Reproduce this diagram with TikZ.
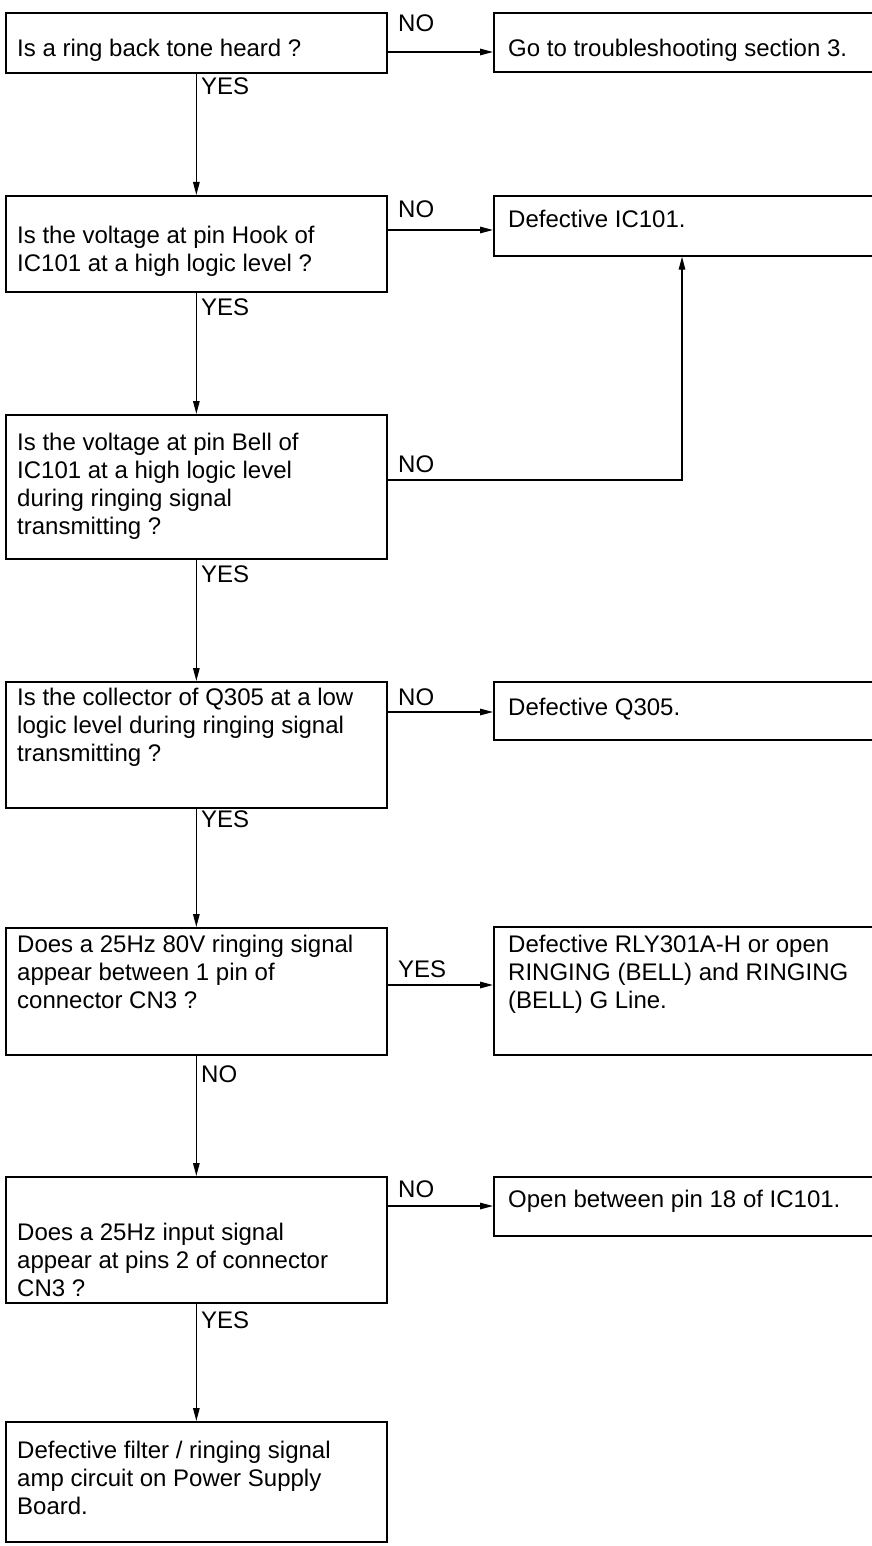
\documentclass[tikz,border=0pt]{standalone}
\usepackage{fontspec}
\setmainfont{Liberation Sans}
\usetikzlibrary{arrows.meta}
\begin{document}
\begin{tikzpicture}[x=1pt,y=-1pt,
  box/.style={draw, line width=1.7pt, inner sep=0pt, anchor=north west},
  lbox/.style={box, minimum width=381pt},
  rbox/.style={box, minimum width=387pt},
  txt/.style={inner sep=0pt, anchor=north west, align=left, font=\fontsize{24}{28}\selectfont},
  lbl/.style={inner sep=0pt, anchor=base west, font=\fontsize{24}{28}\selectfont},
  conn/.style={line width=1.4pt},
  arr/.style={conn, -{Triangle[length=13pt,width=6.5pt]}}]
\useasboundingbox (0,0) rectangle (871,1546);

% boxes
\node[lbox, minimum height=60pt]  (b1) at (5,12) {};
\node[rbox, minimum height=59pt]  (r1) at (493,12) {};
\node[lbox, minimum height=96pt]  (b2) at (5,195) {};
\node[rbox, minimum height=60pt]  (r2) at (493,195) {};
\node[lbox, minimum height=144pt] (b3) at (5,414) {};
\node[lbox, minimum height=126pt] (b4) at (5,681) {};
\node[rbox, minimum height=58pt]  (r4) at (493,681) {};
\node[lbox, minimum height=127pt] (b5) at (5,927) {};
\node[rbox, minimum height=128pt] (r5) at (493,926) {};
\node[lbox, minimum height=126pt] (b6) at (5,1176) {};
\node[rbox, minimum height=59pt]  (r6) at (493,1176) {};
\node[lbox, minimum height=120pt] (b7) at (5,1421) {};

% texts
\node[lbl] (t1) at (17,57) {Is a ring back tone heard ?};
\node[lbl] (s1) at (508,57) {Go to troubleshooting section 3.};
\node[txt] (t2) at (17,225.5) {Is the voltage at pin Hook of\\IC101 at a high logic level ?};
\node[lbl] (s2) at (508,228) {Defective IC101.};
\node[txt] (t3) at (17,432.5) {Is the voltage at pin Bell of\\IC101 at a high logic level\\during ringing signal\\transmitting ?};
\node[txt] (t4) at (17,687.5) {Is the collector of Q305 at a low\\logic level during ringing signal\\transmitting ?};
\node[lbl] (s4) at (508,715) {Defective Q305.};
\node[txt] (t5) at (17,934.5) {Does a 25Hz 80V ringing signal\\appear between 1 pin of\\connector CN3 ?};
\node[txt] (s5) at (508,934.5) {Defective RLY301A-H or open\\RINGING (BELL) and RINGING\\(BELL) G Line.};
\node[txt] (t6) at (17,1222.5) {Does a 25Hz input signal\\appear at pins 2 of connector\\CN3 ?};
\node[lbl] (s6) at (508,1207) {Open between pin 18 of IC101.};
\node[txt] (t7) at (17,1440.5) {Defective filter / ringing signal\\amp circuit on Power Supply\\Board.};

% connector levels
\coordinate (y1) at (0,52);
\coordinate (y2) at (0,230);
\coordinate (u3) at (682,480);
\coordinate (y4) at (0,712);
\coordinate (y5) at (0,985);
\coordinate (y6) at (0,1206);

% connectors
\draw[arr] (b1.east |- y1) -- (r1.west |- y1);
\draw[arr] (b1.south) -- (b2.north);
\draw[arr] (b2.east |- y2) -- (r2.west |- y2);
\draw[arr] (b2.south) -- (b3.north);
\draw[arr] (b3.east |- u3) -- (u3) -- (u3 |- r2.south);
\draw[arr] (b3.south) -- (b4.north);
\draw[arr] (b4.east |- y4) -- (r4.west |- y4);
\draw[arr] (b4.south) -- (b5.north);
\draw[arr] (b5.east |- y5) -- (r5.west |- y5);
\draw[arr] (b5.south) -- (b6.north);
\draw[arr] (b6.east |- y6) -- (r6.west |- y6);
\draw[arr] (b6.south) -- (b7.north);

% labels
\node[lbl] (n1) at (398,32) {NO};
\node[lbl] (v1) at (201,95) {YES};
\node[lbl] (n2) at (398,218) {NO};
\node[lbl] (v2) at (201,315) {YES};
\node[lbl] (n3) at (398,472) {NO};
\node[lbl] (v3) at (201,582) {YES};
\node[lbl] (n4) at (398,705) {NO};
\node[lbl] (v4) at (201,827) {YES};
\node[lbl] (n5) at (398,977) {YES};
\node[lbl] (v5) at (201,1082) {NO};
\node[lbl] (n6) at (398,1197) {NO};
\node[lbl] (v6) at (201,1328) {YES};
\end{tikzpicture}
\end{document}
